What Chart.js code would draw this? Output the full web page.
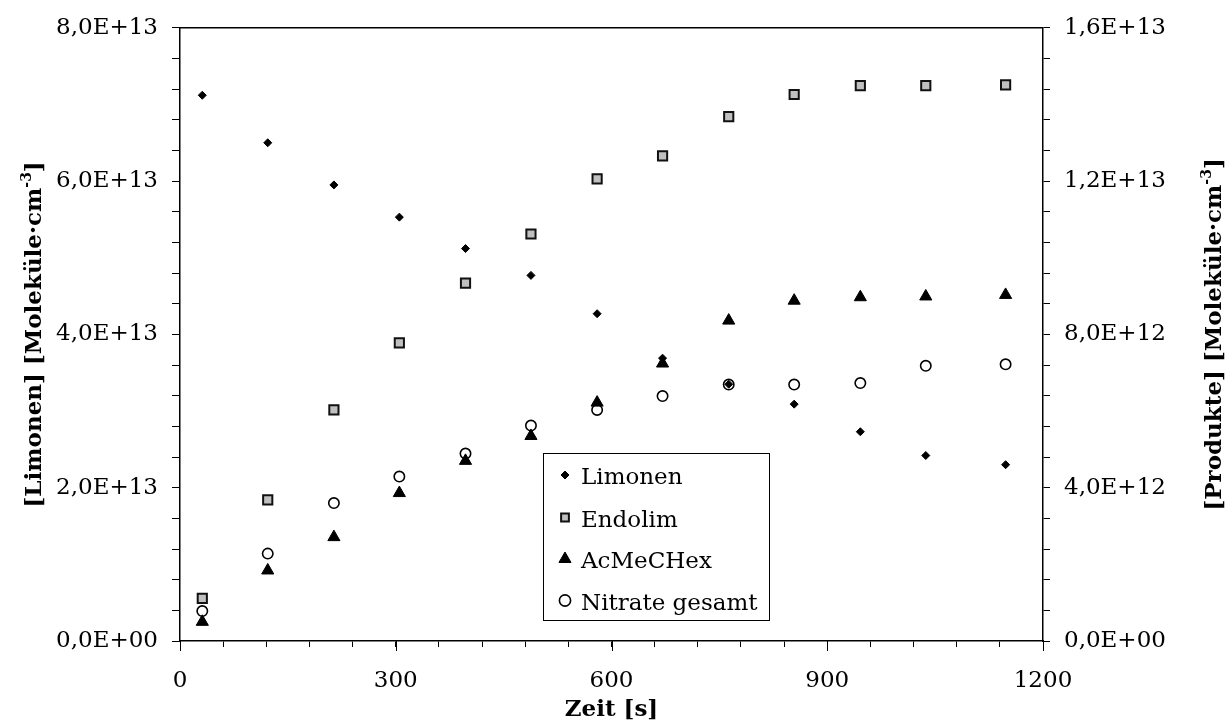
<!DOCTYPE html>
<html><head><meta charset="utf-8">
<script src="https://cdn.jsdelivr.net/npm/chart.js@4/dist/chart.umd.min.js"></script>
<style>html,body{margin:0;padding:0;background:#fff;} #wrap{width:1227px;height:722px;position:relative;}</style>
</head><body><div id="wrap"><canvas id="c" width="1227" height="722"></canvas></div>
<script>
// ---- data ----
const zeit     = [31, 122, 214, 305, 397, 488, 580, 671, 763, 854, 946, 1037, 1148];
const limonen  = [7.12e13, 6.50e13, 5.95e13, 5.53e13, 5.12e13, 4.77e13, 4.27e13, 3.69e13, 3.35e13, 3.09e13, 2.73e13, 2.42e13, 2.30e13];
const endolim  = [1.11e12, 3.68e12, 6.03e12, 7.78e12, 9.34e12, 10.62e12, 12.06e12, 12.66e12, 13.68e12, 14.26e12, 14.49e12, 14.49e12, 14.51e12];
const acmechex = [0.50e12, 1.84e12, 2.71e12, 3.86e12, 4.70e12, 5.35e12, 6.22e12, 7.24e12, 8.36e12, 8.88e12, 8.97e12, 8.99e12, 9.03e12];
const nitrate  = [0.78e12, 2.28e12, 3.60e12, 4.29e12, 4.89e12, 5.62e12, 6.03e12, 6.39e12, 6.69e12, 6.69e12, 6.73e12, 7.18e12, 7.22e12];
const seriesNames = ['Limonen', 'Endolim', 'AcMeCHex', 'Nitrate gesamt'];
const xTickValues = [0, 300, 600, 900, 1200];
const xTickLabels = ['0', '300', '600', '900', '1200'];
const leftTickValues = [0, 2e13, 4e13, 6e13, 8e13];
const leftTickLabels = ['0,0E+00', '2,0E+13', '4,0E+13', '6,0E+13', '8,0E+13'];
const rightTickValues = [0, 4e12, 8e12, 1.2e13, 1.6e13];
const rightTickLabels = ['0,0E+00', '4,0E+12', '8,0E+12', '1,2E+13', '1,6E+13'];
const xTitle = 'Zeit [s]';
const leftTitle = ['[Limonen] [Moleküle·cm', '-3', ']'];
const rightTitle = ['[Produkte] [Moleküle·cm', '-3', ']'];

// ---- helpers ----
const pts = ys => zeit.map((t, i) => ({x: t, y: ys[i]}));
function labelFor(vals, labels) {
  return function(v) {
    for (let i = 0; i < vals.length; i++) {
      if (Math.abs(v - vals[i]) <= Math.abs(vals[vals.length-1]) * 1e-6) return labels[i];
    }
    return '';
  };
}
const tickFont = {family: 'DejaVu Serif', size: 23};

const styles = [
  {pointStyle: 'rectRot', pointRadius: 4, backgroundColor: '#000', borderColor: '#000', borderWidth: 1},
  {pointStyle: 'rect', pointRadius: 6.5, backgroundColor: '#c0c0c0', borderColor: '#111', borderWidth: 2},
  {pointStyle: 'triangle', pointRadius: 7, backgroundColor: '#000', borderColor: '#000', borderWidth: 1},
  {pointStyle: 'circle', pointRadius: 5.2, backgroundColor: '#fff', borderColor: '#000', borderWidth: 1.6}
];

function marker(ctx, st, x, y, r) {
  ctx.save();
  ctx.beginPath();
  const s = st.pointStyle;
  if (s === 'rectRot') {
    ctx.moveTo(x, y - r); ctx.lineTo(x + r, y); ctx.lineTo(x, y + r); ctx.lineTo(x - r, y); ctx.closePath();
  } else if (s === 'rect') {
    const h = Math.SQRT1_2 * r; ctx.rect(x - h, y - h, 2 * h, 2 * h);
  } else if (s === 'triangle') {
    for (let k = 0; k < 3; k++) {
      const a = k * 2 * Math.PI / 3;
      const px = x + Math.sin(a) * r, py = y - Math.cos(a) * r;
      if (k === 0) ctx.moveTo(px, py); else ctx.lineTo(px, py);
    }
    ctx.closePath();
  } else {
    ctx.arc(x, y, r, 0, Math.PI * 2);
  }
  ctx.fillStyle = st.backgroundColor; ctx.fill();
  ctx.lineWidth = st.borderWidth; ctx.strokeStyle = st.borderColor; ctx.stroke();
  ctx.restore();
}

function drawRotTitle(ctx, parts, bx, cy) {
  ctx.save();
  ctx.translate(bx, cy);
  ctx.rotate(-Math.PI / 2);
  const big = 'bold 23px "DejaVu Serif"', small = 'bold 14px "DejaVu Serif"';
  ctx.font = big; const w1 = ctx.measureText(parts[0]).width; const w3 = ctx.measureText(parts[2]).width;
  ctx.font = small; const w2 = ctx.measureText(parts[1]).width;
  let x = -(w1 + w2 + w3) / 2;
  ctx.fillStyle = '#000'; ctx.textBaseline = 'alphabetic'; ctx.textAlign = 'left';
  ctx.font = big; ctx.fillText(parts[0], x, 0); x += w1;
  ctx.font = small; ctx.fillText(parts[1], x, -10); x += w2;
  ctx.font = big; ctx.fillText(parts[2], x, 0);
  ctx.restore();
}

const decor = {
  id: 'decor',
  afterDraw(chart) {
    const ctx = chart.ctx, a = chart.chartArea;
    // top border
    ctx.save();
    ctx.strokeStyle = '#000'; ctx.lineWidth = 1.5;
    ctx.beginPath(); ctx.moveTo(a.left, a.top); ctx.lineTo(a.right, a.top); ctx.stroke();
    // longer major ticks on x
    const xs = chart.scales.x;
    ctx.lineWidth = 1;
    xTickValues.forEach(v => {
      const px = Math.round(xs.getPixelForValue(v)) + 0.5;
      ctx.beginPath(); ctx.moveTo(px, a.bottom); ctx.lineTo(px, a.bottom + 10); ctx.stroke();
    });
    ctx.restore();
    // legend
    ctx.save();
    ctx.strokeStyle = '#000'; ctx.lineWidth = 1;
    ctx.fillStyle = '#fff';
    ctx.fillRect(543.5, 453.5, 226, 167);
    ctx.strokeRect(543.5, 453.5, 226, 167);
    ctx.font = '23px "DejaVu Serif"'; ctx.textBaseline = 'alphabetic'; ctx.textAlign = 'left';
    const rows = [475, 517.5, 559, 600.5];
    const lr = [4, 5.5, 7, 5.6];
    seriesNames.forEach((n, i) => {
      marker(ctx, styles[i], 565, rows[i], lr[i]);
      ctx.fillStyle = '#000';
      ctx.fillText(n, 581, rows[i] + 9);
    });
    ctx.restore();
    // titles
    ctx.save();
    ctx.fillStyle = '#000'; ctx.font = 'bold 23px "DejaVu Serif"'; ctx.textAlign = 'center'; ctx.textBaseline = 'alphabetic';
    ctx.fillText(xTitle, (a.left + a.right) / 2, 716);
    ctx.restore();
    drawRotTitle(ctx, leftTitle, 41, (a.top + a.bottom) / 2);
    drawRotTitle(ctx, rightTitle, 1221, (a.top + a.bottom) / 2);
  }
};

const gridCommon = (len) => ({drawOnChartArea: false, drawTicks: true, tickLength: len, color: '#000', lineWidth: 1});
const borderCommon = {display: true, color: '#000', width: 1.5};

new Chart(document.getElementById('c').getContext('2d'), {
  type: 'scatter',
  data: {
    datasets: [
      Object.assign({label: seriesNames[0], data: pts(limonen), yAxisID: 'y'}, styles[0]),
      Object.assign({label: seriesNames[1], data: pts(endolim), yAxisID: 'y2'}, styles[1]),
      Object.assign({label: seriesNames[2], data: pts(acmechex), yAxisID: 'y2'}, styles[2]),
      Object.assign({label: seriesNames[3], data: pts(nitrate), yAxisID: 'y2'}, styles[3])
    ]
  },
  options: {
    responsive: false, animation: false, devicePixelRatio: 1,
    layout: {padding: {top: 25, left: 0, right: 0, bottom: 0}},
    plugins: {legend: {display: false}, tooltip: {enabled: false}},
    scales: {
      x: {
        type: 'linear', min: 0, max: 1200,
        afterFit(s) { s.height = 81; },
        ticks: {stepSize: 60, autoSkip: false, maxRotation: 0, minRotation: 0, padding: 20, color: '#000', font: tickFont,
                callback: labelFor(xTickValues, xTickLabels)},
        grid: gridCommon(6), border: borderCommon
      },
      y: {
        type: 'linear', position: 'left', min: 0, max: 8e13,
        afterFit(s) { s.width = 180; },
        ticks: {stepSize: 4e12, autoSkip: false, padding: 14, color: '#000', font: tickFont,
                callback: labelFor(leftTickValues, leftTickLabels)},
        grid: gridCommon(8), border: borderCommon
      },
      y2: {
        type: 'linear', position: 'right', min: 0, max: 1.6e13,
        afterFit(s) { s.width = 184; },
        ticks: {stepSize: 8e11, autoSkip: false, padding: 14, color: '#000', font: tickFont,
                callback: labelFor(rightTickValues, rightTickLabels)},
        grid: gridCommon(7), border: borderCommon
      }
    }
  },
  plugins: [decor]
});
</script>
</body></html>
